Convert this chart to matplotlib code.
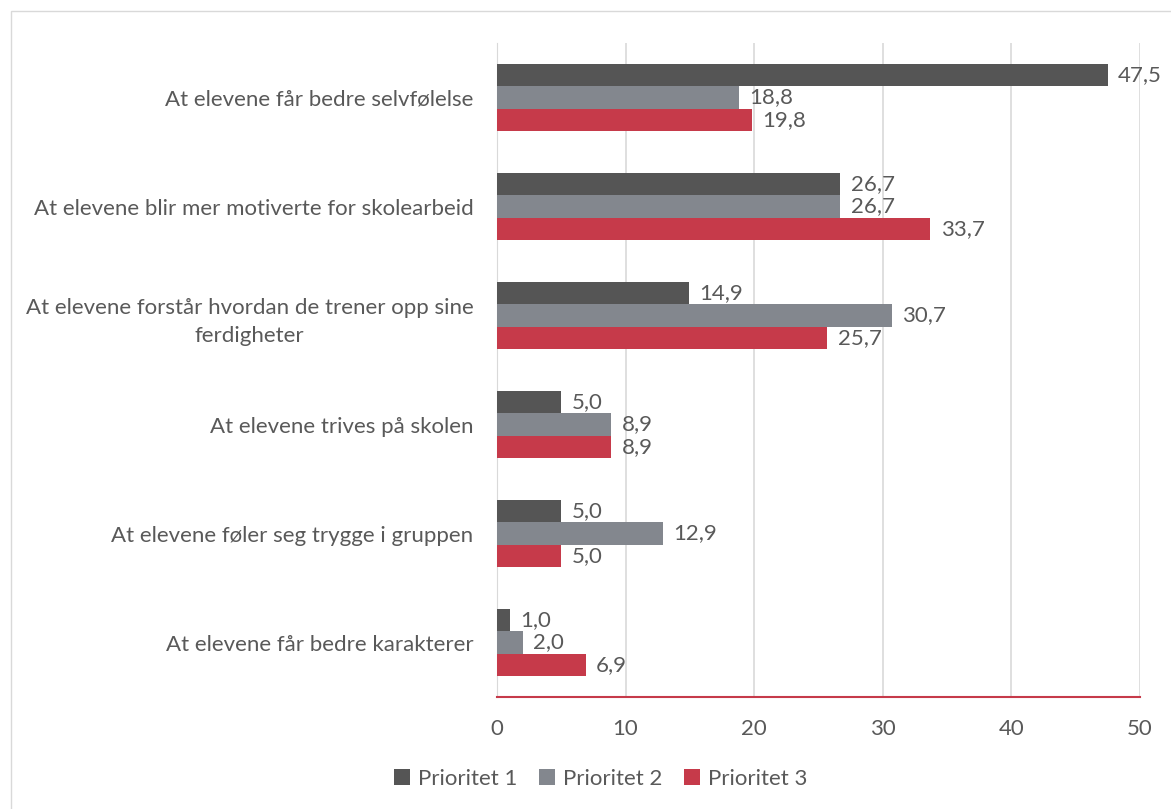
import matplotlib.pyplot as plt
import numpy as np
from matplotlib.patches import Rectangle

categories = ['At elevene får bedre selvfølelse',
              'At elevene blir mer motiverte for skolearbeid',
              'At elevene forstår hvordan de trener opp sine\nferdigheter',
              'At elevene trives på skolen',
              'At elevene føler seg trygge i gruppen',
              'At elevene får bedre karakterer']
series_names = ['Prioritet 1', 'Prioritet 2', 'Prioritet 3']
p1 = [47.5, 26.7, 14.9, 5.0, 5.0, 1.0]
p2 = [18.8, 26.7, 30.7, 8.9, 12.9, 2.0]
p3 = [19.8, 33.7, 25.7, 8.9, 5.0, 6.9]
colors = ['#555555', '#83878E', '#C63A4A']

plt.rcParams['font.family'] = ['Lato', 'DejaVu Sans']
txt = '#595959'
fs = 16

fig = plt.figure(figsize=(11.71, 8.09), dpi=100)
ax = fig.add_axes([0.4244, 0.1384, 0.5491, 0.8084])

y = np.arange(len(categories))
h = 0.205
for i, (vals, c, name) in enumerate(zip([p1, p2, p3], colors, series_names)):
    pos = y + (i - 1) * h
    ax.barh(pos, vals, height=h, color=c, label=name, zorder=3)
    for yy, v in zip(pos, vals):
        ax.text(v + 0.8, yy, f'{v:.1f}'.replace('.', ','), va='center', ha='left',
                fontsize=fs, color=txt, zorder=4)

ax.set_ylim(len(categories) - 0.5, -0.5)
ax.set_xlim(0, 50)
ax.set_xticks([0, 10, 20, 30, 40, 50])
ax.set_yticks(y)
ax.set_yticklabels(categories, fontsize=fs, color=txt, ha='right',
                   multialignment='center', linespacing=1.5)
ax.tick_params(axis='y', length=0, pad=17)
ax.tick_params(axis='x', length=0, labelsize=fs, labelcolor=txt, pad=16)
ax.grid(axis='x', color='#D9D9D9', linewidth=1.2, zorder=0)
for s in ['top', 'right']:
    ax.spines[s].set_visible(False)
ax.spines['left'].set_color('#D9D9D9')
ax.spines['bottom'].set_color('#C63A4A')
ax.spines['bottom'].set_linewidth(1.5)

leg = fig.legend(loc='lower center', bbox_to_anchor=(0.513, 0.0), ncol=3, frameon=False,
                 fontsize=fs, handlelength=0.7, handleheight=0.7, columnspacing=1.0,
                 handletextpad=0.35)
for t in leg.get_texts():
    t.set_color(txt)

fig.patches.append(Rectangle((0.009, -0.01), 1.0, 0.997, transform=fig.transFigure,
                             fill=False, edgecolor='#D9D9D9', linewidth=1))

fig.savefig('out.png', dpi=100)
